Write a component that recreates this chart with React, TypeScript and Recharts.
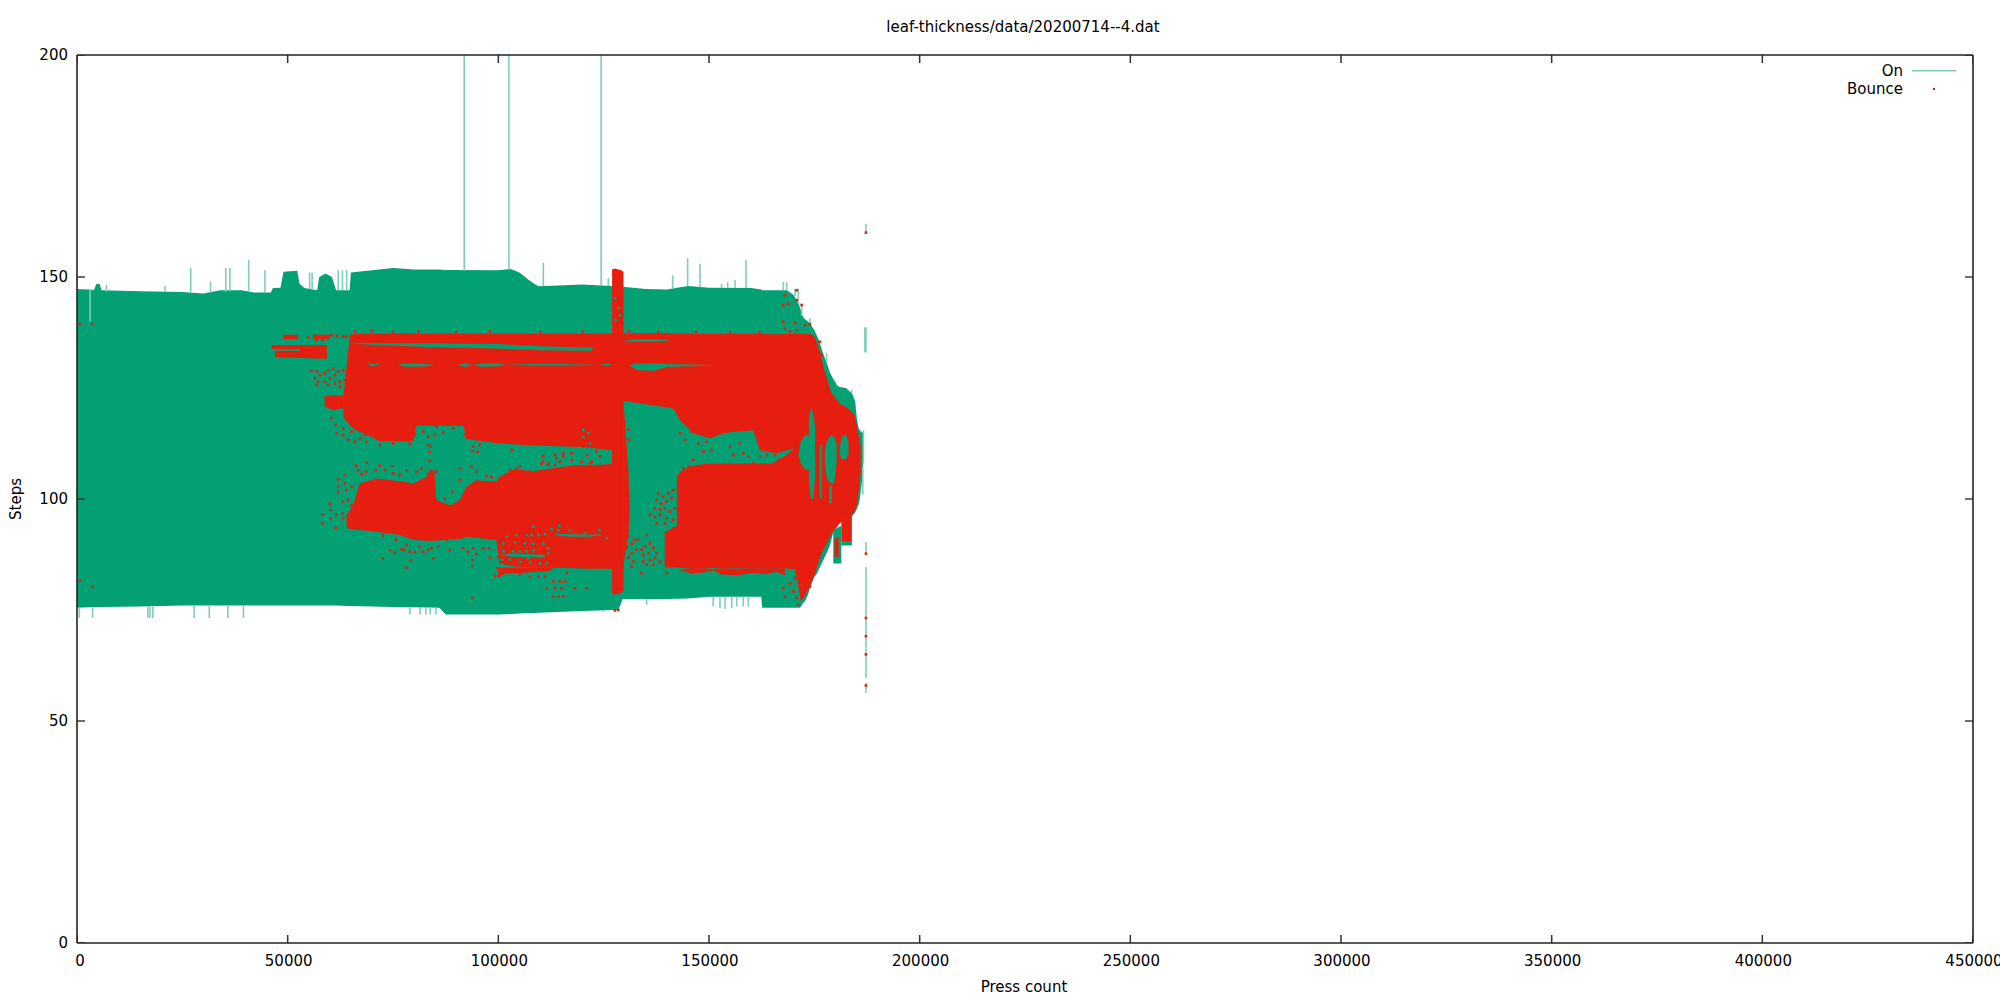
import React from "react";
import { ComposedChart, Area, Line, Scatter, XAxis, YAxis, Legend } from "recharts";

const TITLE = "leaf-thickness/data/20200714--4.dat";
const X_LABEL = "Press count";
const Y_LABEL = "Steps";
const SERIES_ON = "On";
const SERIES_BOUNCE = "Bounce";
const xTicks = [0, 50000, 100000, 150000, 200000, 250000, 300000, 350000, 400000, 450000];
const yTicks = [0, 50, 100, 150, 200];
const X_MAX = 450000;
const Y_MAX = 200;
const TICK_DX = 1898; // inward tick length in press counts
const TICK_DY = 1.8; // inward tick length in steps
const TICK_HALF_X = 180; // half tick thickness in press counts
const TICK_HALF_Y = 0.16; // half tick thickness in steps

type Band = [number, number, number];
type Pt = [number, number];

// On: envelope of the dense vertical strokes [press, low, high]
const onBand: Band[] = [
  [0,75.5,147.3],[3000,75.6,147.2],[4000,75.7,147],[4600,75.7,148.4],[5400,75.7,148.4],[5800,75.7,147],[15000,75.8,146.8],[25000,76,146.6],[30000,76,146.3],[34000,76,147],[39000,76,147],[42000,76,146.5],[46000,76,146.5],[46500,76,147.5],[48300,76,147.6],[49000,76,151.2],[52300,76,151.4],[52800,76,148.5],[54000,76,147.5],[57000,76,147],[57500,76,150],[59000,76,150.8],[60500,76,150],[61500,76,147],[64700,75.9,147],[65000,75.9,151],[75000,75.7,152],[80000,75.6,151.7],[86000,75.5,151.7],[87500,74,151.6],[100000,74,151.5],[103000,74.1,151.8],[105000,74.2,151],[107000,74.3,149.5],[108500,74.3,148.5],[109500,74.4,147.9],[120000,74.8,148.3],[127000,75,148],[128500,75,148],[129500,77.5,147.8],[135000,77.5,147.3],[140000,77.5,147.2],[145000,77.6,148],[150000,78,147.6],[160000,78,147.5],[162400,78,147.2],[162600,75.5,147],[168500,75.5,147],[170000,75.5,146],[171300,75.5,144],[171600,75.5,143],[172300,76.5,141],[172800,77,140.5],[173500,78.5,140],[174000,80,139.5],[175000,82.5,138],[175500,83,137],[176000,84,136],[177000,86,133],[178000,88,130.5],[178700,89.5,128.5],[179500,92.5,127],[180500,94,125.5],[181000,95,125.2],[182500,95.5,125],[183900,96,123.8],[184700,97,122],[185100,97.8,118],[185500,98.7,116],[185800,100,115.5],[186300,104,115],[186550,108,115],
];

// Red regions, from the reference's solid bounce areas [press, low, high]
const bodyUpper: Band[] = [
  [63200,118.5,123],[64800,116.5,137],[66300,115.5,137.2],[68700,114.5,137.3],[71900,113,137.2],[79800,113,137.4],[80600,116.5,137.2],[91700,116.5,137.3],[92450,113.5,137.2],[100300,112.5,137.3],[110000,112,137.2],[120000,111.7,137.3],[127000,111,137.3],[129700,122,137.4],[130200,122,137.3],[141000,120.5,137.4],[141800,120,137.3],[143100,117.8,137.3],[146300,114.8,137.2],[150300,113.7,137.2],[153000,114.8,137.2],[160500,115.5,137.2],[162100,111,137.2],[166100,110.3,137.1],[171600,111.8,137.2],
];
const blobUpper: Band[] = [[58800,120.8,123.2],[61000,120,123.4],[63200,120.5,123.2]];
const stripA: Band[] = [[49000,136,137],[52500,136,137]];
const stripB: Band[] = [[46200,133.8,134.7],[59300,133.8,134.7]];
const stripC: Band[] = [[47000,131.9,133.4],[59300,131.6,133.3]];
const stripD: Band[] = [[52900,133.2,134.3],[59200,133.2,134.3]];
const stripE: Band[] = [[56000,136,137],[60000,136,137]];
const bodyLower: Band[] = [
  [64000,93.4,96.4],[65500,93.2,98.5],[67100,93,103.5],[71100,92.6,104.6],[76600,91.9,104],[79800,90.8,103.5],[83000,90.6,105],[83600,90.6,106.5],[84800,90.6,106.5],[85300,90.6,99.8],[88500,91,98.6],[90000,91,99.2],[91000,91,100],[92400,91.5,102.7],[94800,91.2,104.2],[99500,90.8,103.9],[100300,85.5,105],[104000,84.8,106.8],[108000,84.6,106.2],[112000,84.6,106.8],[118000,84.4,107.6],[122000,84.3,107.6],[126000,84.3,107.8],[129700,84.3,108],
];
const bodyRight: Band[] = [
  [142400,84.6,105],[143000,84.5,106],[146000,84.3,107.5],[150000,84.4,108],[160000,84.4,108],[165000,84.4,108],[168500,84.4,110],[171000,84,112],
];
const bodyRightEdge: Band[] = [[139500,84.6,92.5],[142400,84.6,94]];
const bodyTail: Band[] = [
  [170500,84,137.2],[171800,77,137.2],[172600,78,137.2],[174000,80.5,137.2],[175100,83,136.5],[176400,87,133],[177100,88.5,130],[179000,92,124],[181000,94.5,121.5],[183000,96,120.5],[184500,97,119],[185200,99,116],[186000,106,112],
];
const spikeRed: Band[] = [[127000,78.8,151.7],[127600,78.5,151.9],[129000,78.8,151.6],[129700,79.5,151.2]];
const rimRed: Band[] = [[129700,85,122],[130000,87,118],[130900,92,106],[131100,97,99]];
const lowerStrip: Band[] = [
  [143000,84,84],[146000,83.2,84.4],[149000,83.5,84.4],[151000,83.9,84],[153000,83,84.4],[157000,82.8,84.3],[160000,83.4,84.4],[163000,83.1,84.4],[166000,83.6,84.4],[168000,82.8,84.4],
];
const fingerA: Band[] = [[179800,87,91],[180800,87,91.5]];
const fingerB: Band[] = [[181500,90.5,96.5],[183800,90.5,96.8]];
const stripBelow: Band[] = [[100000,82.6,84.6],[102000,83.2,84.6],[106000,83.4,84.5],[112000,83.8,84.5],[113000,84.2,84.3]];

// Green areas showing through the red
const gap135: Band[] = [[65000,135.2,135.2],[67000,134.9,135.2],[72000,134.6,135.1],[76000,134.5,135],[85000,134.2,135],[100000,133.9,134.9],[110000,133.5,134.4],[122000,133.4,134.1],[122500,134,134]];
const gap130: Band[] = [[69000,130.3,130.3],[70000,129.9,130.5],[72000,130.3,130.3],[76000,130.2,130.2],[78000,129.8,130.6],[83000,129.9,130.4],[85000,130.2,130.2],[90000,130.2,130.2],[92000,129.8,130.5],[94000,130.2,130.2],[96000,129.8,130.5],[100000,129.9,130.5],[102000,130.2,130.2],[108000,130,130.4],[115000,130,130.4],[124000,130.2,130.2],[126000,130,130.6],[127000,130.2,130.2],[131000,130.2,130.2],[133000,129,130.5],[137000,128.9,130.6],[140000,129.8,130.4],[146000,129.9,130.3],[152000,130.1,130.1]];
const gap136: Band[] = [[129600,135.6,135.6],[132000,135.4,136],[138000,135.4,136],[140700,135.7,135.7]];
const gapLowA: Band[] = [[100500,87.4,87.4],[103000,87,87.7],[110000,86.9,87.5],[112000,87.2,87.2]];
const gapLowB: Band[] = [[113000,92,92],[115000,91.6,92.2],[120000,91.5,92],[124000,91.7,92],[125000,91.9,91.9]];
const holeA: Band[] = [[171200,110,110],[171800,108,113],[173000,106.5,114.5],[174000,107,114]];
const holeB: Band[] = [[173700,104,118],[174200,100,120.5],[174700,100,119.5],[175200,105,116]];
const holeC: Band[] = [[177500,108,111],[178000,104.5,113],[179000,103.5,114.5],[179700,103.5,114],[180300,108,112.5]];
const holeD: Band[] = [[181100,110,112],[181500,108.8,114],[182500,109,114.5],[183100,110,113]];
const holeE: Band[] = [[176300,100,112],[176800,100,112.5]];
const holeF: Band[] = [[178500,99,103],[179200,99,103]];
const notchA: Band[] = [[179500,85.5,93],[181400,85.5,94]];
const notchB: Band[] = [[181400,89.5,96],[183900,89.5,96.5]];

// Separate "On" strokes [press, low, high]
const onSpikes: Band[] = [
  [91900,151.4,200],[102500,151.7,200],[124400,148.2,200],
  [3100,140,147.2],
  [7000,146.7,148.2],[20900,146.6,148],[27000,146.5,152],[31700,146.5,149],[35300,146.7,152],[36300,146.8,152],[40750,146.7,153.9],[44600,146.5,151.5],
  [55200,147.3,151],[55800,147.2,151],[62000,147,151.5],[63000,147,151.5],[64000,147,151.5],
  [110680,148,153.2],[126100,148,149.7],[141370,147.4,150.4],[144930,147.9,154.2],[147860,147.7,153],[153000,147.5,148.5],[154430,147.5,148.9],[156170,147.5,149.3],[158780,147.5,153.8],[167640,147,148.9],[168430,147,148.9],[170400,145.6,147.4],[171200,144,147.4],[172000,141.2,143.7],[173960,139.5,140.7],[177900,130.8,132.8],[180300,125.7,126],[181870,125.1,125],[183850,123.8,124.6],
  [550,73.2,75.5],[3700,73.2,75.6],[16800,73.2,75.8],[17300,73.2,75.8],[18000,73.2,75.8],[27800,73.2,76],[31400,73.2,76],[35800,73.2,76],[39500,73.2,76],
  [79000,74,75.6],[81400,74,75.6],[82800,74,75.6],[83800,74,75.6],[85200,74,75.5],
  [124900,74.6,75],[135200,76.2,77.5],[141530,77.7,77.6],[151000,75.8,78],[152600,75.4,78],[153800,75.2,78],[155400,75.4,78],[156560,75.8,78],[158140,75.8,78],[159330,75.8,78],
  [186500,101,107],[186650,108,115.5],
  [187250,160,162],[187250,133,138.7],[187000,133,138.7],[187250,87.8,90.3],[187250,59.7,84.7],[187250,56.3,58.5],
];

// Isolated bounce points [press, steps]
const dotsEdge: Pt[] = [
  [700,139.4],[3700,139.4],[700,81.6],[3700,80.2],[93900,77.7],
  [54900,136.4],[56460,136.7],[56850,135.8],[57650,136.6],[58280,135.7],[60400,136.9],[61760,136.7],[63180,136.55],[63970,136.55],
  [55670,128.9],[56850,128.7],[57650,127.9],[58830,128.3],[59620,129],[60810,129.4],[61200,127.9],[62000,128.7],[63180,129],[56460,127.2],[57250,126.4],[58830,126.4],[60020,127.2],[61200,126],[62390,126.4],[63580,126.8],[63970,127.9],[56850,125.7],[59620,125.7],[62390,125.3],
  [60410,118.2],[61440,116.7],[61600,114.8],[63180,115.9],[63180,114.4],[64370,113.3],[65160,115.2],[65950,112.9],[67140,113.7],[68320,114.4],[68720,112.9],[71090,113.7],[71880,112.2],[75050,112.5],[79000,112.4],
  [80190,114.4],[82170,115.2],[83350,114],[84930,114.4],[85330,116.3],[83350,112.2],[83900,111.8],[86910,115],[89290,115.9],[92050,114.4],[94030,111.8],[95610,112.2],[97200,114.8],
  [66000,137.7],[70000,137.8],[75000,137.6],[81000,137.7],[90000,137.6],[98000,137.7],[110000,137.6],[120000,137.7],[131000,137.7],[138000,137.6],[147000,137.6],[155000,137.5],[162000,137.5],
];
const dotsLower: Pt[] = [
  [58280,96.5],[58280,94.5],[60020,98.9],[60180,97.5],[60180,95.6],[61600,96.4],[63020,96.8],[61440,93.5],[63180,95.6],[61990,104.4],[61990,102.9],[61990,101.6],[63020,99.4],[63580,105.4],[63580,103.5],[63970,102],[64370,99.8],[65160,102.8],[65160,98.6],[66190,107.5],[66740,106.5],[67530,105.6],[68720,108.2],[68560,106.1],[71880,107.5],[70930,106.5],[73070,106.5],[74890,107.4],[75050,105.8],[76630,105.4],[78210,106.4],[80590,106.1],[81770,106.9],[83750,110.6],[83750,108.6],[85330,106.1],[87310,100.1],[89130,101.6],[90870,106.9],[90870,104.3],[93640,107.3],[94820,106.1],[97200,105.2],[98380,104.9],[93870,110.8],[95060,110.6],
  [72520,91.7],[75680,90.8],[74260,88.4],[75440,87.9],[77030,88.7],[78210,89.6],[77580,88.5],[79000,88.1],[80190,88.1],[81380,89.3],[82170,88.1],[83350,88.5],[84150,88.9],[85730,89.3],[87700,90.8],[88500,88.5],[91660,88.9],[92850,88.1],[94030,88.9],[94820,87.6],[96400,88.9],[97830,88.9],[72520,86.6],[79240,86.1],[78210,84.5],[84540,86.6],[93870,86.3],[93870,84.9],[97990,86.8],[99970,86.9],[99730,84.4],[99170,82.7],[100200,82.7],
];
const dotsMiddle: Pt[] = [
  [102770,106.5],[105150,107.3],[107520,106.2],[110290,108],[111870,108],[113850,109.2],[115430,109.6],[117410,110.3],[120180,111.8],[121760,108],[124130,109.6],[126110,107.3],[127290,111],[129270,111.4],
  [103170,111],[110680,109.7],[113450,109.9],[114640,108.4],[115430,110.3],[117410,108.8],[119780,108.4],[121120,109.9],[122150,108.4],[123340,110.7],[127290,108.8],[128240,110.7],[110680,108.4],[111870,107.7],[113450,107.7],[116620,106.9],[118590,106.6],[104350,106.9],[106330,104.7],[101980,105.4],
  [130850,100.5],[130850,98.3],[130460,95.3],[128880,93.8],[132440,90.8],[133230,90.8],[130460,88.9],[131650,87.8],[130850,86.7],[131650,84.8],[132840,88.6],[130850,115.6],[131090,113.3],[130060,117.4],[130060,111],
  [111470,79.9],[113060,81.4],[114640,81.4],[115820,81.4],[113450,79.9],[115030,79.9],[118200,79.9],[120970,79.9],[113060,78],[114240,78],[115430,78],[109500,82.5],[105150,83],[107520,82.5],[116220,83.3],[111080,82.5],[127690,74.9],[128480,75],
  [137970,101.3],[139160,100.5],[140350,101.3],[141530,102],[137580,99.8],[138760,99],[139950,99.4],[141140,100.2],[137180,97.9],[138370,97.6],[139550,97.9],[140740,97.2],[141930,97.9],[137180,96],[138370,96.4],[139950,95.7],[141530,95.3],[136000,96.4],[137580,94.5],[139550,94.5],[141530,93.4],[143500,93],
  [135200,91.9],[134020,88.6],[134810,89.3],[135990,90],[134410,87.4],[135600,87.8],[136790,89],[137580,87.8],[134410,85.9],[135990,86.3],[137180,86.7],[135200,85.2],[136790,85.2],[138370,85.9],[134020,83.3],[139950,83.3],[132040,85.9],[131650,90],[130460,89.3],[130850,91.6],[130060,97.2],[130850,99.4],
];
const dotsRight: Pt[] = [
  [143150,114.8],[144330,113.3],[145910,115.2],[147500,112.5],[149470,112.9],[150660,111],[148680,110.7],[146310,108.8],[145120,107.3],[143940,106.9],[151450,114.4],[152640,114.8],[155010,111.8],[157380,112.6],[155800,109.9],[158180,110.3],[159360,109.6],[160550,108],[162130,109.6],[163710,109.9],[165690,109.9],[166880,108.8],[169250,109.2],
  [168030,145.9],[167640,143.7],[168820,144],[170800,147],[170800,144.8],[171990,143.7],[167640,139.9],[168030,138.4],[170400,139.6],[170800,138],[169220,137.7],[172780,139.2],[173960,139.4],[176340,135.4],[176730,132.4],
  [167640,79.9],[169220,81],[170400,82.2],[168030,78],[170010,79.2],[170800,77.7],[171990,80.3],[173960,80.3],[171200,76.2],
  [187250,160],[187250,87.7],[187250,73.2],[187250,69.1],[187250,65],[187250,58],
];
const dotsGreen: Pt[] = [
  [127700,145.2],[128500,142.9],[128900,141.4],[127900,140.3],
  [112660,93.2],[114480,94],[114240,93],[117010,92.9],[120570,92.3],[121760,91.6],[123970,93],[125710,91.2],[108310,93.8],[107910,91.9],[109500,91.9],[111080,92.1],[101980,91.5],[104350,91.9],[106730,91.9],
  [101190,90],[103960,90.2],[106330,90],[108310,89.9],[110680,89.9],[111870,88.9],[108310,88.5],[106730,88.2],[105150,88.2],[103560,88.2],[101190,88.2],[111870,87.8],[109890,87],[107120,86.7],[102770,86.3],[100800,86.3],[105150,85.9],[107520,85.7],[109890,85.5],[111480,85.5],
  [120180,115.6],[121360,114.8],[120180,114],[121760,112.5],[119780,111],
];

const GREEN = "#02A073";
const GREEN_LIGHT = "#7FCEB8";
const RED = "#E51E10";
const TICK_COLOR = "#333";

const toRows = (b: Band[]) => b.map(([x, lo, hi]) => ({ x, range: [lo, hi] }));
const toPts = (p: Pt[]) => p.map(([x, y]) => ({ x, y }));
const spikeRows = onSpikes.flatMap(([x, lo, hi]) => [{ x, y: lo }, { x, y: hi }, { x, y: null }]);

// Inward tick marks, mirrored on all four sides, as thin ranges on the chart's own scales
const tickBands: Band[][] = [
  ...xTicks.flatMap((v): Band[][] => [
    [[v - TICK_HALF_X, 0, TICK_DY], [v + TICK_HALF_X, 0, TICK_DY]],
    [[v - TICK_HALF_X, Y_MAX - TICK_DY, Y_MAX], [v + TICK_HALF_X, Y_MAX - TICK_DY, Y_MAX]],
  ]),
  ...yTicks.flatMap((v): Band[][] => [
    [[0, v - TICK_HALF_Y, v + TICK_HALF_Y], [TICK_DX, v - TICK_HALF_Y, v + TICK_HALF_Y]],
    [[X_MAX - TICK_DX, v - TICK_HALF_Y, v + TICK_HALF_Y], [X_MAX, v - TICK_HALF_Y, v + TICK_HALF_Y]],
  ]),
];

const redBands = [bodyUpper, blobUpper, stripA, stripB, stripC, stripD, stripE, bodyLower, bodyRight, bodyRightEdge, bodyTail, spikeRed, rimRed, lowerStrip, stripBelow];
const greenBands = [gap135, gap130, gap136, gapLowA, gapLowB, holeA, holeB, holeC, holeD, holeE, holeF, notchA, notchB];
const fingers = [fingerA, fingerB];

const FONT = "'DejaVu Sans'";
const FS = 15;

const Square = (color: string) => (p: any) => <rect x={p.cx - 1.3} y={p.cy - 1.3} width={2.6} height={2.6} fill={color} />;

const XTick = (p: any) => (
  <text x={p.x + (p.payload.value === 0 ? 3 : 1)} y={p.y + 23} textAnchor="middle" fontFamily={FONT} fontSize={FS} fill="#000">{p.payload.value}</text>
);
const YTick = (p: any) => (
  <text x={p.x - 9} y={p.y + 5} textAnchor="end" fontFamily={FONT} fontSize={FS} fill="#000">{p.payload.value}</text>
);
const NoLabel = () => <g />;

const LegendBox = () => (
  <svg width={2000} height={120} style={{ position: "absolute", left: 0, top: 0, pointerEvents: "none" }}>
    <text x={1903} y={76} textAnchor="end" fontFamily={FONT} fontSize={FS}>{SERIES_ON}</text>
    <line x1={1912} x2={1956} y1={70.7} y2={70.7} stroke={GREEN_LIGHT} strokeWidth={1.5} />
    <text x={1903} y={94} textAnchor="end" fontFamily={FONT} fontSize={FS}>{SERIES_BOUNCE}</text>
    <rect x={1933} y={88} width={2} height={2} fill={RED} />
  </svg>
);

export default function App() {
  const axisLine = { stroke: "#222", strokeWidth: 1.6 };
  const tickProps = { tickSize: 0, tickMargin: 0, tickLine: false, axisLine, allowDataOverflow: true, interval: 0 as const };
  return (
    <div style={{ position: "absolute", left: 0, top: 0, width: 2000, height: 1000, background: "#fff" }}>
      <ComposedChart width={2000} height={1000} margin={{ left: 76, right: 26, top: 54, bottom: 56 }}>
        <XAxis xAxisId={0} dataKey="x" type="number" domain={[0, X_MAX]} ticks={xTicks} height={1} tick={<XTick />} {...tickProps} />
        <XAxis xAxisId="top" orientation="top" dataKey="x" type="number" domain={[0, X_MAX]} ticks={xTicks} height={1} tick={<NoLabel />} {...tickProps} />
        <YAxis yAxisId={0} type="number" domain={[0, Y_MAX]} ticks={yTicks} width={1} tick={<YTick />} {...tickProps} />
        <YAxis yAxisId="right" orientation="right" type="number" domain={[0, Y_MAX]} ticks={yTicks} width={1} tick={<NoLabel />} {...tickProps} />

        <Area data={toRows(onBand)} dataKey="range" name={SERIES_ON} type="linear" stroke="none" fill={GREEN} fillOpacity={1} dot={false} activeDot={false} isAnimationActive={false} />
        <Line data={spikeRows} dataKey="y" name={SERIES_ON + " strokes"} stroke={GREEN_LIGHT} strokeWidth={1.6} dot={false} activeDot={false} connectNulls={false} isAnimationActive={false} />
        {redBands.map((b, i) => (
          <Area key={"r" + i} data={toRows(b)} dataKey="range" name={SERIES_BOUNCE} type="linear" stroke="none" fill={RED} fillOpacity={1} dot={false} activeDot={false} isAnimationActive={false} />
        ))}
        {greenBands.map((b, i) => (
          <Area key={"g" + i} data={toRows(b)} dataKey="range" name={SERIES_ON} type="linear" stroke="none" fill={GREEN} fillOpacity={1} dot={false} activeDot={false} isAnimationActive={false} />
        ))}
        {fingers.map((b, i) => (
          <Area key={"f" + i} data={toRows(b)} dataKey="range" name={SERIES_BOUNCE} type="linear" stroke="none" fill={RED} fillOpacity={1} dot={false} activeDot={false} isAnimationActive={false} />
        ))}
        <Scatter data={toPts(dotsGreen)} dataKey="y" shape={Square(GREEN)} isAnimationActive={false} />
        {[dotsEdge, dotsLower, dotsMiddle, dotsRight].map((d, i) => (
          <Scatter key={"d" + i} data={toPts(d)} dataKey="y" name={SERIES_BOUNCE} shape={Square(RED)} isAnimationActive={false} />
        ))}
        {tickBands.map((b, i) => (
          <Area key={"t" + i} data={toRows(b)} dataKey="range" name="tick" type="linear" stroke="none" fill={TICK_COLOR} fillOpacity={1} dot={false} activeDot={false} isAnimationActive={false} />
        ))}

        <Legend content={<LegendBox />} wrapperStyle={{ position: "absolute", left: 0, top: 0, width: 0, height: 0 }} />
        <text x={1023} y={32} textAnchor="middle" fontFamily={FONT} fontSize={FS}>{TITLE}</text>
        <text x={1024} y={992} textAnchor="middle" fontFamily={FONT} fontSize={FS}>{X_LABEL}</text>
        <text x={21} y={499} textAnchor="middle" fontFamily={FONT} fontSize={FS} transform="rotate(-90 21 499)">{Y_LABEL}</text>
      </ComposedChart>
    </div>
  );
}
